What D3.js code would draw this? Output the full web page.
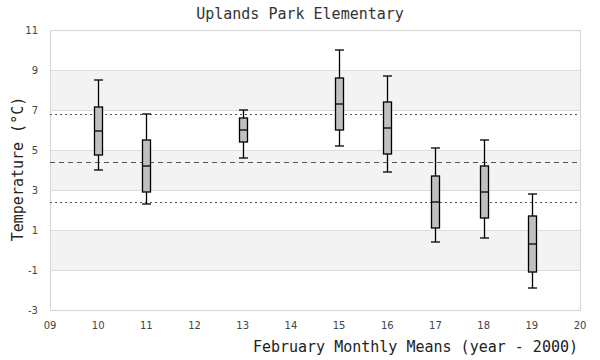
<!DOCTYPE html>
<html><head><meta charset="utf-8">
<script src="https://cdn.jsdelivr.net/npm/d3@7"></script>
<style>body{margin:0;background:#fff}</style>
</head><body>
<svg id="c" width="600" height="360"></svg>
<script>
const years = [10, 11, 13, 15, 16, 17, 18, 19];
const whiskerLow  = [4.0, 2.3, 4.6, 5.2, 3.9, 0.4, 0.6, -1.9];
const q1          = [4.75, 2.9, 5.4, 6.0, 4.8, 1.1, 1.6, -1.1];
const median      = [5.95, 4.2, 6.0, 7.3, 6.1, 2.4, 2.9, 0.3];
const q3          = [7.15, 5.5, 6.6, 8.6, 7.4, 3.7, 4.2, 1.7];
const whiskerHigh = [8.5, 6.8, 7.0, 10.0, 8.7, 5.1, 5.5, 2.8];
const refUpper = 6.8, refMean = 4.4, refLower = 2.4;
const xTicks = [9,10,11,12,13,14,15,16,17,18,19,20];
const yTicks = [-3,-1,1,3,5,7,9,11];
const title = "Uplands Park Elementary";
const xTitle = "February Monthly Means (year - 2000)";
const yTitle = "Temperature (°C)";

const svg = d3.select("#c");
const L=50, R=580, T=30, B=310;
const x = d3.scaleLinear().domain([9,20]).range([L,R]);
const y = d3.scaleLinear().domain([-3,11]).range([B,T]);

// alternating bands between ticks
const bands = [[9,7],[5,3],[1,-1]];
svg.selectAll("rect.band").data(bands).join("rect")
  .attr("x",L).attr("width",R-L)
  .attr("y",d=>y(d[0])).attr("height",d=>y(d[1])-y(d[0]))
  .attr("fill","#f3f3f3");
// gridlines
svg.selectAll("line.grid").data(yTicks).join("line")
  .attr("x1",L).attr("x2",R).attr("y1",d=>y(d)+0.5).attr("y2",d=>y(d)+0.5)
  .attr("stroke","#dcdcdc").attr("stroke-width",1);
// border
svg.append("rect").attr("x",L+0.5).attr("y",T+0.5).attr("width",R-L).attr("height",B-T)
  .attr("fill","none").attr("stroke","#d8d8d8").attr("stroke-width",1.2);

// reference lines
[[refUpper,"2,3"],[refMean,"5,4"],[refLower,"2,3"]].forEach(([v,da])=>{
  svg.append("line").attr("x1",L).attr("x2",R).attr("y1",Math.round(y(v))+0.5).attr("y2",Math.round(y(v))+0.5)
    .attr("stroke","#555").attr("stroke-width",1).attr("stroke-dasharray",da);
});

// boxes
const data = years.map((yr,i)=>({yr,lo:whiskerLow[i],q1:q1[i],md:median[i],q3:q3[i],hi:whiskerHigh[i]}));
const bw = 8, cw = 9;
const g = svg.append("g");
data.forEach(d=>{
  const cx = Math.round(x(d.yr))+0.5;
  g.append("line").attr("x1",cx).attr("x2",cx).attr("y1",y(d.hi)).attr("y2",y(d.lo))
    .attr("stroke","#000").attr("stroke-width",1.3);
  [d.hi,d.lo].forEach(v=>g.append("line").attr("x1",cx-cw/2).attr("x2",cx+cw/2)
    .attr("y1",y(v)).attr("y2",y(v)).attr("stroke","#000").attr("stroke-width",1.3));
  g.append("rect").attr("x",cx-bw/2).attr("width",bw).attr("y",y(d.q3)).attr("height",y(d.q1)-y(d.q3))
    .attr("fill","#c0c0c0").attr("stroke","#000").attr("stroke-width",1.3);
  g.append("line").attr("x1",cx-bw/2).attr("x2",cx+bw/2).attr("y1",y(d.md)).attr("y2",y(d.md))
    .attr("stroke","#000").attr("stroke-width",1.3);
});

// tick labels
const tickFont = "DejaVu Sans";
svg.selectAll("text.yt").data(yTicks).join("text")
  .attr("x",38).attr("y",d=>y(d)).attr("dy","0.35em").attr("text-anchor","end")
  .attr("font-family",tickFont).attr("font-size",10).attr("fill","#444").text(d=>d);
svg.selectAll("text.xt").data(xTicks).join("text")
  .attr("x",d=>x(d)).attr("y",325).attr("dy","0.35em").attr("text-anchor","middle")
  .attr("font-family",tickFont).attr("font-size",10).attr("fill","#444").text(d=>d3.format("02d")(d));

// titles
svg.append("text").attr("x",300).attr("y",19).attr("text-anchor","middle")
  .attr("font-family","DejaVu Sans Mono").attr("font-size",15).attr("fill","#333").text(title);
svg.append("text").attr("x",578).attr("y",352).attr("text-anchor","end")
  .attr("font-family","DejaVu Sans Mono").attr("font-size",15).attr("fill","#222").text(xTitle);
svg.append("text").attr("transform","translate(23,169) rotate(-90)").attr("text-anchor","middle")
  .attr("font-family","DejaVu Sans Mono").attr("font-size",15).attr("fill","#222").text(yTitle);
</script>
</body></html>
